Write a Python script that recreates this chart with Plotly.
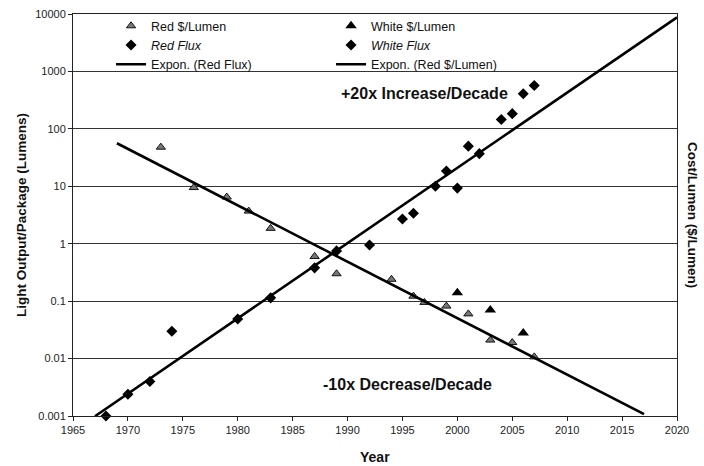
import numpy as np
import plotly.graph_objects as go

# ---- data ----
red_cost_years = [1973, 1976, 1979, 1981, 1983, 1987, 1989, 1994, 1996, 1997, 1999, 2001, 2003, 2005, 2007]
red_cost = [48, 9.5, 6.5, 3.7, 1.85, 0.6, 0.3, 0.24, 0.122, 0.095, 0.082, 0.06, 0.021, 0.019, 0.0107]

white_cost_years = [2000, 2003, 2006]
white_cost = [0.14, 0.07, 0.028]

red_flux_years = [1968, 1970, 1972, 1974, 1980, 1983, 1987, 1989, 1992, 1995, 1996, 1998,
                  1999, 2000, 2001, 2002, 2004, 2005]
red_flux = [0.001, 0.0024, 0.004, 0.03, 0.049, 0.114, 0.38, 0.75, 0.95, 2.7, 3.4, 10,
            18.5, 9.3, 50, 37, 145, 184]

white_flux_years = [2006, 2007]
white_flux = [410, 570]

# trendline extents (forecast backward/forward as in the chart)
flux_trend_span = [1967, 2020]
cost_trend_span = [1969, 2017]

y_tick_vals = [0.001, 0.01, 0.1, 1, 10, 100, 1000, 10000]
y_tick_text = ["0.001", "0.01", "0.1", "1", "10", "100", "1000", "10000"]
x_tick_vals = [1965, 1970, 1975, 1980, 1985, 1990, 1995, 2000, 2005, 2010, 2015, 2020]

FONT = "Liberation Sans, Arial, Helvetica, sans-serif"


def expon_trend(years, values, span):
    coef = np.polyfit(np.asarray(years, float), np.log10(values), 1)
    xs = np.linspace(span[0], span[1], 60)
    return xs, 10 ** np.polyval(coef, xs)


fig = go.Figure()

fig.add_trace(go.Scatter(
    x=red_cost_years, y=red_cost, mode="markers", name="Red $/Lumen",
    marker=dict(symbol="triangle-up", size=8, color="#777777",
                line=dict(color="#111111", width=1)),
    cliponaxis=False))
fig.add_trace(go.Scatter(
    x=white_cost_years, y=white_cost, mode="markers", name="White $/Lumen",
    marker=dict(symbol="triangle-up", size=10, color="#000000"),
    cliponaxis=False))
fig.add_trace(go.Scatter(
    x=red_flux_years, y=red_flux, mode="markers", name="<i>Red Flux</i>",
    marker=dict(symbol="diamond", size=8.5, color="#000000"),
    cliponaxis=False))
fig.add_trace(go.Scatter(
    x=white_flux_years, y=white_flux, mode="markers", name="<i>White Flux</i>",
    marker=dict(symbol="diamond", size=8.5, color="#000000"),
    cliponaxis=False))

fx, fy = expon_trend(red_flux_years, red_flux, flux_trend_span)
fig.add_trace(go.Scatter(x=fx, y=fy, mode="lines", name="Expon. (Red Flux)",
                         line=dict(color="#000000", width=2.6)))
cx, cy = expon_trend(red_cost_years, red_cost, cost_trend_span)
fig.add_trace(go.Scatter(x=cx, y=cy, mode="lines", name="Expon. (Red $/Lumen)",
                         line=dict(color="#000000", width=2.6)))

fig.update_layout(
    width=704, height=466,
    margin=dict(l=73, r=27, t=14, b=50, autoexpand=False),
    paper_bgcolor="white", plot_bgcolor="white",
    font=dict(family=FONT, color="#111111"),
    showlegend=True,
    legend=dict(orientation="h", x=0.063, xanchor="left", y=1.007, yanchor="top",
                entrywidth=175, entrywidthmode="pixels",
                font=dict(family=FONT, size=12.5, color="#111111"),
                bgcolor="rgba(0,0,0,0)", itemwidth=30),
    xaxis=dict(range=[1965, 2020], tickvals=x_tick_vals, showgrid=False,
               showline=True, linecolor="#222222", linewidth=1, mirror=True,
               ticks="outside", ticklen=4, tickcolor="#222222",
               tickfont=dict(family=FONT, size=11, color="#222222"), zeroline=False),
    yaxis=dict(type="log", range=[-3, 4], tickvals=y_tick_vals, ticktext=y_tick_text,
               showgrid=True, gridcolor="#333333", gridwidth=1,
               showline=True, linecolor="#222222", linewidth=1, mirror=True,
               ticks="outside", ticklen=4, tickcolor="#222222",
               tickfont=dict(family=FONT, size=11, color="#222222")),
    annotations=[
        dict(text="<b>+20x Increase/Decade</b>", x=1997.0, y=2.61, xref="x", yref="y",
             xanchor="center", yanchor="middle",
             showarrow=False, font=dict(family=FONT, size=16, color="#111111")),
        dict(text="<b>-10x Decrease/Decade</b>", x=1995.5, y=-2.46, xref="x", yref="y",
             xanchor="center", yanchor="middle",
             showarrow=False, font=dict(family=FONT, size=16, color="#111111")),
        dict(text="<b>Light Output/Package (Lumens)</b>", x=0, y=0.5, xref="paper", yref="paper",
             xanchor="center", yanchor="middle",
             xshift=-52, textangle=-90, showarrow=False,
             font=dict(family=FONT, size=13.5, color="#111111")),
        dict(text="<b>Cost/Lumen ($/Lumen)</b>", x=1, y=0.5, xref="paper", yref="paper",
             xanchor="center", yanchor="middle",
             xshift=16, textangle=90, showarrow=False,
             font=dict(family=FONT, size=13.5, color="#111111")),
        dict(text="<b>Year</b>", x=0.5, y=0, xref="paper", yref="paper",
             xanchor="center", yanchor="middle",
             yshift=-41, showarrow=False,
             font=dict(family=FONT, size=14, color="#111111")),
    ],
)

fig.write_html("out.html", config={"displayModeBar": False},
               post_script="document.body.style.margin='0';")
